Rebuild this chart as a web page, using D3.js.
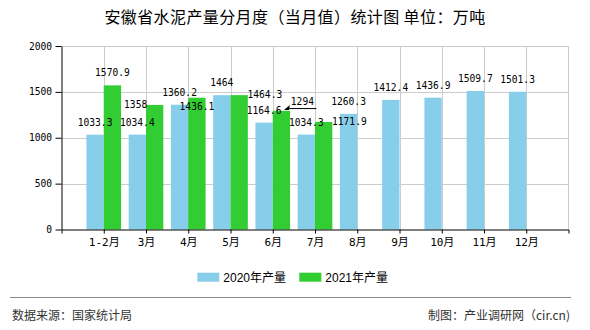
<!DOCTYPE html>
<html>
<head>
<meta charset="utf-8">
<script src="https://cdn.jsdelivr.net/npm/d3@7"></script>
<style>
html,body{margin:0;padding:0;background:#fff;}
svg{display:block;}
</style>
</head>
<body>
<svg id="chart" width="590" height="330"></svg>
<script>
// ---- data ----
const categories = ["1-2月","3月","4月","5月","6月","7月","8月","9月","10月","11月","12月"];
const values2020 = [1033.3, 1034.4, 1360.2, 1464, 1164.6, 1034.3, 1260.3, 1412.4, 1436.9, 1509.7, 1501.3];
const values2021 = [1570.9, 1358, 1436.1, 1464.3, 1294, 1171.9, null, null, null, null, null];
const seriesNames = ["2020年产量", "2021年产量"];
const yTickValues = [0, 500, 1000, 1500, 2000];
const titleText = "安徽省水泥产量分月度（当月值）统计图 单位：万吨";
const sourceText = "数据来源：国家统计局";
const creditText = "制图：产业调研网（cir.cn)";

// ---- layout / style ----
const colors = ["#87CEEB", "#32CD32"];
const plot = {left: 61.5, right: 568.5, top: 46, bottom: 229.5};
const numFont = "'DejaVu Sans Mono', 'Liberation Mono', monospace";
const cjkFont = "'Noto Sans CJK SC', 'Noto Sans', sans-serif";
// label nudges (dx, dy) for 2021 series to avoid overlap, as in the original
const nudge2021 = {1: [-19, 11.7], 2: [0, 21], 3: [25.7, 11.5], 4: [21, 2.8], 5: [25.7, 11.6]};
const leaderIndex2021 = 4;

const svg = d3.select("#chart");

const x = d3.scalePoint().domain(categories).range([plot.left, plot.right]).padding(1);
const y = d3.scaleLinear().domain([0, 2000]).range([plot.bottom, plot.top]);
const barW = x.step() * 0.41;

// gridlines
const grid = svg.append("g").attr("stroke", "#cccccc").attr("stroke-width", 1);
grid.selectAll("line.h").data(yTickValues.filter(d => d > 0)).enter().append("line")
  .attr("x1", plot.left).attr("x2", plot.right)
  .attr("y1", d => Math.round(y(d)) + 0.5).attr("y2", d => Math.round(y(d)) + 0.5);
grid.selectAll("line.v").data(categories).enter().append("line")
  .attr("x1", d => Math.round(x(d)) + 0.5).attr("x2", d => Math.round(x(d)) + 0.5)
  .attr("y1", plot.top).attr("y2", plot.bottom);
grid.append("line").attr("x1", plot.right).attr("x2", plot.right).attr("y1", plot.top).attr("y2", plot.bottom);

// bars
const bars = svg.append("g");
bars.selectAll("rect.s2020").data(values2020).enter().append("rect")
  .attr("fill", colors[0])
  .attr("x", (d, i) => x(categories[i]) - barW)
  .attr("width", barW)
  .attr("y", d => y(d))
  .attr("height", d => y(0) - y(d));
bars.selectAll("rect.s2021").data(values2021.map((v, i) => ({v, i})).filter(d => d.v != null)).enter().append("rect")
  .attr("fill", colors[1])
  .attr("x", d => x(categories[d.i]))
  .attr("width", barW)
  .attr("y", d => y(d.v))
  .attr("height", d => y(0) - y(d.v));

// axes
const yAxis = d3.axisLeft(y).tickValues(yTickValues).tickSize(6).tickSizeOuter(0).tickFormat(d3.format("d"));
const gy = svg.append("g").attr("transform", `translate(${plot.left},0)`).call(yAxis);
gy.select(".domain").attr("stroke", "#000");
gy.selectAll(".tick line").attr("stroke", "#000");
gy.selectAll(".tick text").attr("font-family", numFont).attr("font-size", "9.6px").attr("fill", "#000").attr("x", -9.5);

const xAxis = d3.axisBottom(x).tickSize(4).tickSizeOuter(4);
const gx = svg.append("g").attr("transform", `translate(0,${plot.bottom})`).call(xAxis);
gx.select(".domain").attr("stroke", "#000");
gx.selectAll(".tick line").attr("stroke", "#000");
gx.selectAll(".tick text").attr("font-family", numFont + ", " + cjkFont).attr("font-size", "11px").attr("fill", "#000").attr("y", 9);

// value labels
const labels = svg.append("g").attr("font-family", numFont).attr("font-size", "9.6px").attr("fill", "#000").attr("text-anchor", "middle");
values2020.forEach((v, i) => {
  labels.append("text")
    .attr("x", x(categories[i]) - barW / 2)
    .attr("y", y(v) - 12.5 + 3.5)
    .text(v);
});
values2021.forEach((v, i) => {
  if (v == null) return;
  const n = nudge2021[i] || [0, 0];
  const cx = x(categories[i]) + barW / 2 + n[0];
  const cy = y(v) - 12.5 + n[1];
  const t = labels.append("text").attr("x", cx).attr("y", cy + 3.5).text(v);
  if (i === leaderIndex2021) {
    const tipX = x(categories[i]) + barW / 2 + 2.5;
    const tipY = y(v) - 0.8;
    const lineY = cy + 7.5;
    svg.append("line").attr("x1", tipX + 3).attr("x2", cx + 14).attr("y1", lineY).attr("y2", lineY)
      .attr("stroke", "#000").attr("stroke-width", 1);
    svg.append("path")
      .attr("d", `M${tipX},${tipY} L${tipX + 6},${lineY - 3.5} L${tipX + 5},${lineY + 1.5} Z`)
      .attr("fill", "#000");
  }
});

// title
svg.append("text").attr("x", 295).attr("y", 23).attr("text-anchor", "middle")
  .attr("font-family", cjkFont).attr("font-size", "16px").attr("letter-spacing", "0.4px").attr("fill", "#000")
  .text(titleText);

// legend
const legendItems = [{x: 197.3}, {x: 299.3}];
seriesNames.forEach((name, i) => {
  const g = svg.append("g");
  g.append("rect").attr("x", legendItems[i].x).attr("y", 272.7).attr("width", 22).attr("height", 9).attr("fill", colors[i]);
  g.append("text").attr("x", legendItems[i].x + 26).attr("y", 281.8)
    .attr("font-family", "'Liberation Sans', " + cjkFont).attr("font-size", "12px").attr("fill", "#000").text(name);
});

// footer
svg.append("line").attr("x1", 10).attr("x2", 571).attr("y1", 297.5).attr("y2", 297.5).attr("stroke", "#888").attr("stroke-width", 1.2);
svg.append("text").attr("x", 12).attr("y", 320).attr("font-family", cjkFont).attr("font-size", "12px").attr("fill", "#333").text(sourceText);
svg.append("text").attr("x", 570).attr("y", 320).attr("text-anchor", "end").attr("font-family", cjkFont).attr("font-size", "12px").attr("fill", "#333").text(creditText);
</script>
</body>
</html>
